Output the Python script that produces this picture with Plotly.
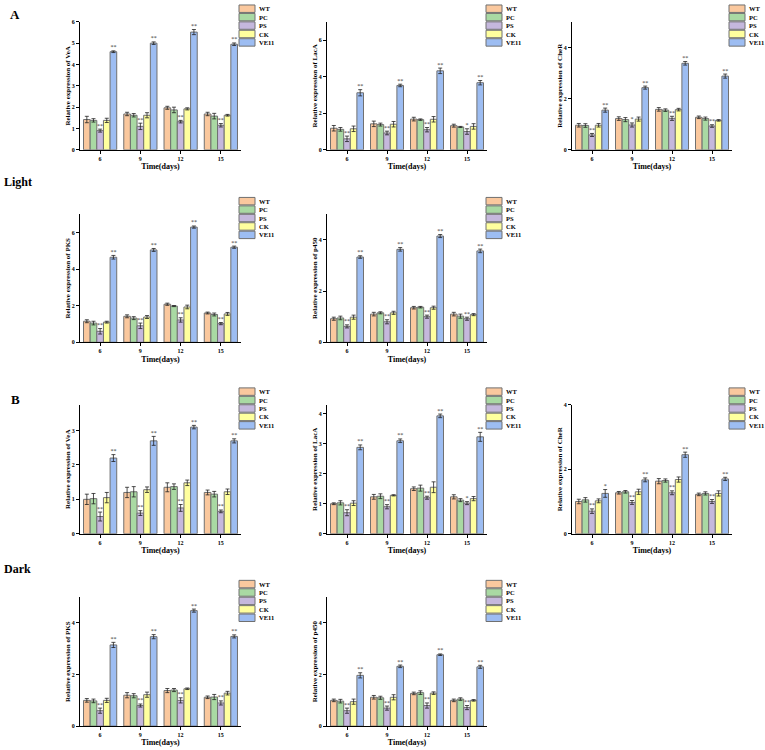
import plotly.graph_objects as go

# ---------------- data ----------------
days = ["6", "9", "12", "15"]
series = ["WT", "PC", "PS", "CK", "VE11"]
colors = ["#FAC89E", "#A9D9A3", "#C5B8DD", "#FFFF9E", "#9DBDF2"]

# Light - VeA
light_vea_means = [[1.42, 1.68, 1.97, 1.68], [1.38, 1.62, 1.87, 1.58], [0.90, 1.10, 1.32, 1.15],
                   [1.38, 1.62, 1.92, 1.62], [4.60, 5.00, 5.52, 4.95]]
light_vea_errs = [[0.15, 0.08, 0.07, 0.08], [0.08, 0.08, 0.13, 0.13], [0.07, 0.15, 0.06, 0.08],
                  [0.10, 0.12, 0.05, 0.04], [0.04, 0.06, 0.12, 0.06]]
light_vea_stars = [["", "", "", ""], ["", "", "", ""], ["**", "**", "**", "**"],
                   ["", "", "", ""], ["**", "**", "**", "**"]]

# Light - LacA
light_laca_means = [[1.18, 1.42, 1.68, 1.32], [1.12, 1.38, 1.65, 1.25], [0.60, 0.92, 1.10, 1.00],
                    [1.15, 1.40, 1.67, 1.28], [3.12, 3.52, 4.32, 3.67]]
light_laca_errs = [[0.15, 0.15, 0.10, 0.08], [0.10, 0.08, 0.04, 0.03], [0.15, 0.10, 0.12, 0.15],
                   [0.15, 0.15, 0.15, 0.15], [0.17, 0.07, 0.15, 0.12]]
light_laca_stars = [["", "", "", ""], ["", "", "", ""], ["**", "**", "**", "*"],
                    ["", "", "", ""], ["**", "**", "**", "**"]]

# Light - CheR
light_cher_means = [[0.96, 1.22, 1.58, 1.27], [0.95, 1.18, 1.55, 1.22], [0.58, 0.97, 1.23, 0.93],
                    [0.96, 1.20, 1.57, 1.15], [1.55, 2.43, 3.38, 2.88]]
light_cher_errs = [[0.07, 0.07, 0.07, 0.05], [0.07, 0.08, 0.05, 0.06], [0.06, 0.08, 0.08, 0.05],
                   [0.07, 0.08, 0.05, 0.03], [0.08, 0.06, 0.07, 0.08]]
light_cher_stars = [["", "", "", ""], ["", "", "", ""], ["**", "*", "**", "**"],
                    ["", "", "", ""], ["**", "**", "**", "**"]]

# Light - PKS
light_pks_means = [[1.15, 1.42, 2.08, 1.60], [1.05, 1.32, 1.98, 1.52], [0.60, 0.90, 1.22, 1.02],
                   [1.10, 1.38, 1.93, 1.55], [4.65, 5.05, 6.30, 5.20]]
light_pks_errs = [[0.08, 0.08, 0.06, 0.05], [0.10, 0.08, 0.03, 0.08], [0.15, 0.15, 0.12, 0.06],
                  [0.05, 0.08, 0.10, 0.08], [0.10, 0.08, 0.06, 0.06]]
light_pks_stars = [["", "", "", ""], ["", "", "", ""], ["**", "**", "**", "**"],
                   ["", "", "", ""], ["**", "**", "**", "**"]]

# Light - p450
light_p450_means = [[0.92, 1.10, 1.35, 1.10], [0.95, 1.15, 1.37, 1.02], [0.62, 0.80, 1.00, 0.92],
                    [0.98, 1.15, 1.35, 1.08], [3.33, 3.63, 4.15, 3.57]]
light_p450_errs = [[0.06, 0.07, 0.05, 0.07], [0.07, 0.04, 0.03, 0.08], [0.06, 0.08, 0.06, 0.06],
                   [0.08, 0.06, 0.06, 0.04], [0.05, 0.07, 0.06, 0.07]]
light_p450_stars = [["", "", "", ""], ["", "", "", ""], ["**", "**", "**", "**"],
                    ["", "", "", ""], ["**", "**", "**", "**"]]

# Dark - VeA
dark_vea_means = [[1.00, 1.20, 1.35, 1.20], [1.02, 1.22, 1.37, 1.15], [0.50, 0.60, 0.75, 0.65],
                  [1.05, 1.28, 1.48, 1.22], [2.20, 2.70, 3.10, 2.70]]
dark_vea_errs = [[0.15, 0.15, 0.13, 0.07], [0.15, 0.15, 0.08, 0.08], [0.13, 0.07, 0.10, 0.04],
                 [0.15, 0.08, 0.08, 0.08], [0.10, 0.13, 0.05, 0.06]]
dark_vea_stars = [["", "", "", ""], ["", "", "", ""], ["**", "**", "**", "**"],
                  ["", "", "", ""], ["**", "**", "**", "**"]]

# Dark - LacA
dark_laca_means = [[1.00, 1.23, 1.50, 1.23], [1.03, 1.25, 1.52, 1.12], [0.70, 0.90, 1.20, 1.02],
                   [1.02, 1.28, 1.55, 1.17], [2.88, 3.10, 3.93, 3.23]]
dark_laca_errs = [[0.03, 0.08, 0.06, 0.07], [0.07, 0.08, 0.10, 0.05], [0.10, 0.07, 0.05, 0.05],
                  [0.08, 0.02, 0.18, 0.07], [0.08, 0.06, 0.06, 0.15]]
dark_laca_stars = [["", "", "", ""], ["", "", "", ""], ["**", "**", "**", "*"],
                   ["", "", "", ""], ["**", "**", "**", "**"]]

# Dark - CheR
dark_cher_means = [[1.00, 1.27, 1.63, 1.22], [1.05, 1.30, 1.65, 1.25], [0.70, 0.97, 1.27, 1.00],
                   [1.02, 1.30, 1.68, 1.25], [1.25, 1.67, 2.45, 1.70]]
dark_cher_errs = [[0.07, 0.04, 0.08, 0.04], [0.07, 0.04, 0.05, 0.05], [0.07, 0.06, 0.06, 0.06],
                  [0.06, 0.08, 0.08, 0.08], [0.12, 0.06, 0.08, 0.05]]
dark_cher_stars = [["", "", "", ""], ["", "", "", ""], ["**", "**", "**", "**"],
                   ["", "", "", ""], ["*", "**", "**", "**"]]

# Dark - PKS
dark_pks_means = [[1.00, 1.20, 1.38, 1.12], [0.98, 1.18, 1.40, 1.13], [0.60, 0.80, 1.00, 0.90],
                  [1.00, 1.22, 1.45, 1.28], [3.15, 3.47, 4.48, 3.48]]
dark_pks_errs = [[0.07, 0.10, 0.08, 0.05], [0.07, 0.08, 0.06, 0.10], [0.10, 0.06, 0.10, 0.08],
                 [0.08, 0.10, 0.03, 0.07], [0.10, 0.08, 0.06, 0.06]]
dark_pks_stars = [["", "", "", ""], ["", "", "", ""], ["**", "**", "**", "**"],
                  ["", "", "", ""], ["**", "**", "**", "**"]]

# Dark - p450
dark_p450_means = [[1.00, 1.12, 1.27, 1.00], [0.97, 1.10, 1.30, 1.05], [0.60, 0.70, 0.80, 0.72],
                   [0.95, 1.12, 1.28, 1.00], [1.97, 2.32, 2.77, 2.30]]
dark_p450_errs = [[0.05, 0.07, 0.05, 0.05], [0.07, 0.06, 0.07, 0.05], [0.10, 0.08, 0.10, 0.08],
                  [0.10, 0.10, 0.05, 0.03], [0.10, 0.05, 0.03, 0.06]]
dark_p450_stars = [["", "", "", ""], ["", "", "", ""], ["**", "**", "**", "**"],
                   ["", "", "", ""], ["**", "**", "**", "**"]]

# ---------------- layout helpers ----------------
W, H = 765, 750
FONT = "Liberation Serif"
EDGE = "#707070"


def px(x):
    return x / W


def py(y):
    return 1 - y / H


col_x = [(80, 241), (327, 487), (572, 732)]
row_y = [(19, 148), (213, 342), (405, 535), (599, 729)]
legend_left = [239, 486, 729]

panels = [
    (0, 0, "VeA", light_vea_means, light_vea_errs, light_vea_stars, 6, 1),
    (0, 1, "LacA", light_laca_means, light_laca_errs, light_laca_stars, 7, 2),
    (0, 2, "CheR", light_cher_means, light_cher_errs, light_cher_stars, 5, 2),
    (1, 0, "PKS", light_pks_means, light_pks_errs, light_pks_stars, 7, 2),
    (1, 1, "p450", light_p450_means, light_p450_errs, light_p450_stars, 5, 2),
    (2, 0, "VeA", dark_vea_means, dark_vea_errs, dark_vea_stars, 3.75, 1),
    (2, 1, "LacA", dark_laca_means, dark_laca_errs, dark_laca_stars, 4.3, 1),
    (2, 2, "CheR", dark_cher_means, dark_cher_errs, dark_cher_stars, 4, 2),
    (3, 0, "PKS", dark_pks_means, dark_pks_errs, dark_pks_stars, 5, 2),
    (3, 1, "p450", dark_p450_means, dark_p450_errs, dark_p450_stars, 5, 2),
]

fig = go.Figure()
layout_axes = {}
shapes = []
annotations = []

for i, (r, c, gene, means, errs, stars, ymax, dtick) in enumerate(panels):
    n = i + 1
    xa = "x" if n == 1 else f"x{n}"
    ya = "y" if n == 1 else f"y{n}"
    for s, name in enumerate(series):
        fig.add_trace(go.Bar(
            x=days, y=means[s], name=name, offsetgroup=name,
            marker=dict(color=colors[s], line=dict(color=EDGE, width=1)),
            error_y=dict(type="data", array=errs[s], color="#222222", thickness=0.8, width=2),
            xaxis=xa, yaxis=ya, showlegend=False, hoverinfo="skip"))
    for s, name in enumerate(series):
        tops = [m + e for m, e in zip(means[s], errs[s])]
        fig.add_trace(go.Scatter(
            x=days, y=tops, mode="text", text=stars[s], textposition="top center",
            textfont=dict(family=FONT, size=6, color="#333333"), offsetgroup=name,
            xaxis=xa, yaxis=ya, showlegend=False, hoverinfo="skip"))

    x0, x1 = col_x[c]
    y0, y1 = row_y[r]
    xkey = "xaxis" if n == 1 else f"xaxis{n}"
    ykey = "yaxis" if n == 1 else f"yaxis{n}"
    layout_axes[xkey] = dict(
        domain=[px(x0), px(x1)], anchor=ya, type="category", range=[-0.5, 3.5],
        showline=True, linecolor="black", linewidth=1, ticks="outside", ticklen=3,
        tickcolor="black", showgrid=False, zeroline=False,
        tickfont=dict(family=FONT, size=6, color="black", weight="bold"),
        title=dict(text="Time(days)", standoff=2,
                   font=dict(family=FONT, size=8, color="black", weight="bold")))
    layout_axes[ykey] = dict(
        domain=[py(y1), py(y0)], anchor=xa, range=[0, ymax], dtick=dtick, tick0=0,
        showline=True, linecolor="black", linewidth=1, ticks="outside", ticklen=3,
        tickcolor="black", showgrid=False, zeroline=False,
        tickfont=dict(family=FONT, size=6, color="black", weight="bold"),
        title=dict(text=f"Relative expression of {gene}", standoff=0,
                   font=dict(family=FONT, size=7, color="black", weight="bold")))

    # compact legend beside each panel
    lx = legend_left[c]
    ly = y0 - 17
    for s, name in enumerate(series):
        top = ly + s * 8.5
        shapes.append(dict(type="rect", xref="paper", yref="paper",
                           x0=px(lx), x1=px(lx + 16), y0=py(top + 7.5), y1=py(top),
                           fillcolor=colors[s], line=dict(color=EDGE, width=1)))
        annotations.append(dict(xref="paper", yref="paper", x=px(lx + 17.5), y=py(top + 3.8),
                                text=name, showarrow=False, xanchor="left", yanchor="middle",
                                font=dict(family=FONT, size=6.5, color="black", weight="bold")))

for txt, x, y, size in [("A", 8, 12, 13), ("Light", 2, 180, 12), ("B", 9, 400, 13), ("Dark", 2, 571, 12)]:
    annotations.append(dict(xref="paper", yref="paper", x=px(x), y=py(y), text=txt,
                            showarrow=False, xanchor="left", yanchor="middle",
                            font=dict(family=FONT, size=size, color="black", weight="bold")))

fig.update_layout(
    width=W, height=H, margin=dict(l=0, r=0, t=0, b=0),
    paper_bgcolor="white", plot_bgcolor="white",
    barmode="group", bargap=0.175, bargroupgap=0,
    scattermode="group", scattergap=0.175,
    shapes=shapes, annotations=annotations, showlegend=False,
    **layout_axes)

fig.write_html("out.html", config={"displayModeBar": False},
               post_script="document.body.style.margin='0px';document.body.style.padding='0px';")
